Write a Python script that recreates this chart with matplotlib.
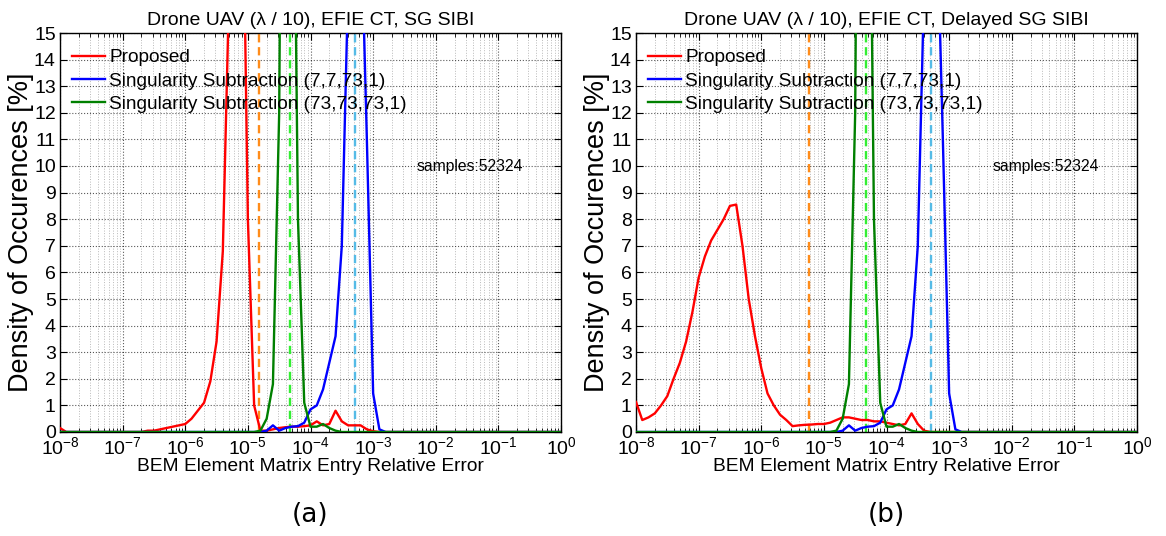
import numpy as np
import matplotlib
matplotlib.use("Agg")
import matplotlib.pyplot as plt
from matplotlib.ticker import LogLocator, MultipleLocator, NullFormatter

plt.rcParams['font.family'] = ['Liberation Sans', 'DejaVu Sans']
plt.rcParams['mathtext.fontset'] = 'custom'
plt.rcParams['mathtext.rm'] = 'Liberation Sans'

# histogram bins: 10 per decade, centres from 1e-8 to 1e0
bin_exp = np.arange(81) / 10.0 - 8.0

# density of occurences [%] per bin
proposed_a = ([0.15] + [0.0] * 13 +
              [0.05, 0.05, 0.1, 0.15, 0.2, 0.25, 0.3, 0.5, 0.8, 1.1, 1.9, 3.4, 6.8,
               16.6, 31.0, 24.3, 8.0, 1.0, 0.05, 0.05, 0.1, 0.15, 0.18, 0.2, 0.2,
               0.22, 0.25, 0.4, 0.25, 0.3, 0.8, 0.4, 0.25, 0.25, 0.25, 0.1, 0.03] +
              [0.0] * 30)
proposed_b = ([1.13, 0.45, 0.55, 0.7, 1.0, 1.35, 2.0, 2.6, 3.4, 4.5, 5.8, 6.6, 7.2,
               7.6, 8.0, 8.5, 8.55, 7.0, 5.0, 3.6, 2.4, 1.45, 1.0, 0.65, 0.45, 0.22,
               0.25, 0.27, 0.28, 0.3, 0.3, 0.35, 0.45, 0.55, 0.55, 0.5, 0.45, 0.45,
               0.4, 0.4, 0.35, 0.3, 0.25, 0.3, 0.7, 0.3, 0.05] +
              [0.0] * 34)
ss_7 = ([0.0] * 33 +
        [0.05, 0.25, 0.05, 0.15, 0.2, 0.22, 0.35, 0.85, 1.0, 1.6, 2.6, 3.6, 7.0,
         16.7, 32.0, 20.0, 11.0, 1.45, 0.1] +
        [0.0] * 29)
ss_73 = ([0.0] * 32 +
         [0.05, 0.5, 1.8, 12.0, 46.0, 30.0, 8.0, 1.1, 0.2, 0.2, 0.3, 0.15, 0.05] +
         [0.0] * 36)

# mean errors (dashed lines)
mean_proposed = [1.5e-5, 5.7e-6]
mean_ss_73 = 4.7e-5
mean_ss_7 = 5.1e-4

titles = ["Drone UAV (\u03bb / 10), EFIE CT, SG SIBI",
          "Drone UAV (\u03bb / 10), EFIE CT, Delayed SG SIBI"]
panel_tags = ["(a)", "(b)"]
labels = ["Proposed", "Singularity Subtraction (7,7,73,1)",
          "Singularity Subtraction (73,73,73,1)"]
n_samples = 52324

fig = plt.figure(figsize=(11.66, 5.36), dpi=100)
lefts = [60 / 1166, 636 / 1166]
x = 10.0 ** bin_exp

for i, prop in enumerate([proposed_a, proposed_b]):
    ax = fig.add_axes([lefts[i], 104 / 536, 501 / 1166, 399 / 536])
    ax.plot(x, prop, color="red", lw=1.7, label=labels[0], zorder=3)
    ax.plot(x, ss_7, color="blue", lw=1.7, label=labels[1], zorder=3)
    ax.plot(x, ss_73, color="green", lw=1.7, label=labels[2], zorder=3)
    ax.axvline(mean_proposed[i], color="#ff8c1a", ls="--", lw=1.7, dashes=(3.5, 2))
    ax.axvline(mean_ss_73, color="#33ee33", ls="--", lw=1.7, dashes=(3.5, 2))
    ax.axvline(mean_ss_7, color="#55bbe6", ls="--", lw=1.7, dashes=(3.5, 2))

    ax.set_xscale("log")
    ax.set_xlim(1e-8, 1)
    ax.set_ylim(0, 15)
    ax.xaxis.set_major_locator(LogLocator(base=10, numticks=20))
    ax.xaxis.set_minor_locator(LogLocator(base=10, subs=np.arange(2, 10), numticks=20))
    ax.xaxis.set_minor_formatter(NullFormatter())
    ax.yaxis.set_major_locator(MultipleLocator(1))
    ax.tick_params(which="both", direction="in", top=True, right=True, labelsize=14)
    ax.tick_params(which="major", length=5, pad=3)
    ax.tick_params(which="minor", length=3)
    ax.grid(which="major", ls=":", color="black", lw=0.8, alpha=0.65)
    ax.grid(which="minor", axis="x", ls=":", color="gray", lw=0.7, alpha=0.55)
    for s in ax.spines.values():
        s.set_linewidth(1.0)

    ax.set_title(titles[i], fontsize=14, pad=6)
    ax.set_xlabel("BEM Element Matrix Entry Relative Error", fontsize=13.8, labelpad=0)
    ax.set_ylabel("Density of Occurences [%]", fontsize=19.5, labelpad=0)
    ax.text(5e-3, 10, "samples:%d" % n_samples, fontsize=11.3, va="center", ha="left")
    ax.legend(loc="upper left", bbox_to_anchor=(-0.008, 1.0), frameon=False,
              fontsize=13.7, handlelength=1.75, handletextpad=0.2,
              borderaxespad=0.5, borderpad=0.35, labelspacing=0.3)
    fig.text(lefts[i] + 0.5 * 501 / 1166, 1 - 515 / 536, panel_tags[i],
             ha="center", va="center", fontsize=19, family="DejaVu Sans")

fig.savefig("out.png", dpi=100)
